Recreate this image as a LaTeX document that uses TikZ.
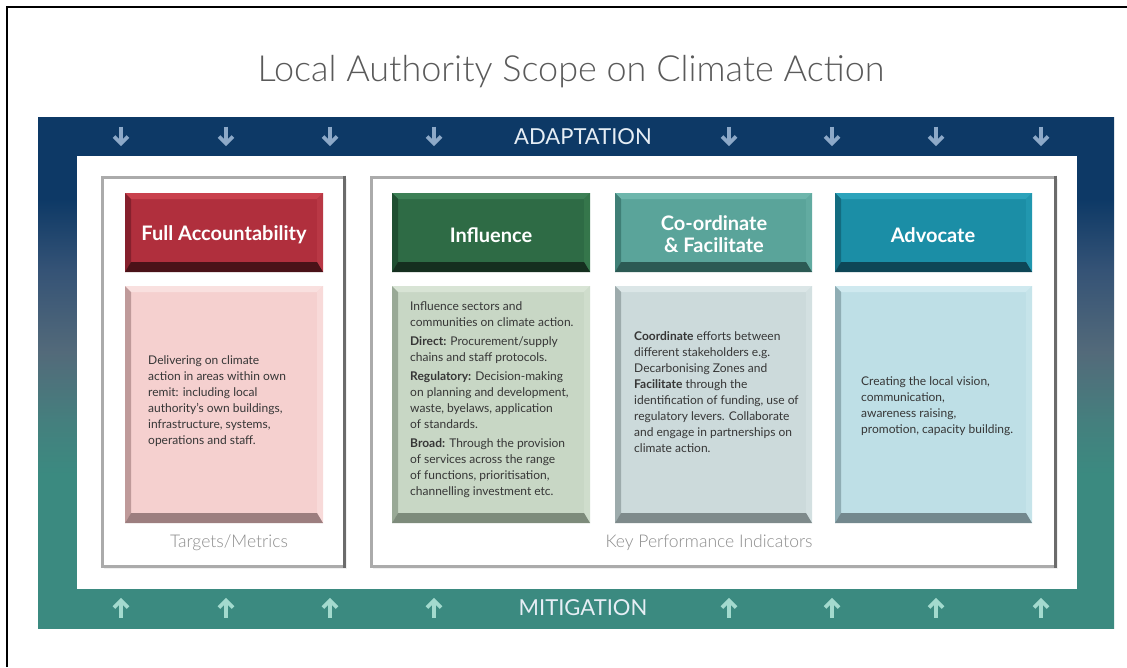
\documentclass[tikz,border=0pt]{standalone}
\usepackage{fontspec}
\setmainfont{Lato}
\IfFontExistsTF{Lato Light}{\newfontfamily\latolt{Lato Light}}{\newfontfamily\latolt{Lato}}
\definecolor{navyc}{HTML}{0D3966}
\definecolor{c60}{HTML}{355376}
\definecolor{midc}{HTML}{536A7A}
\definecolor{c44}{HTML}{44807E}
\definecolor{tealc}{HTML}{3B8A80}
\definecolor{uparrow}{HTML}{A3DACE}
\definecolor{downarrow}{HTML}{8DA9C8}
\definecolor{bandtext}{HTML}{E6EEF5}
\definecolor{titlegray}{HTML}{5A5A5A}
\definecolor{bodygray}{HTML}{363636}
\definecolor{kpigray}{HTML}{8C8C8C}
% header bevel colours
\definecolor{famain}{HTML}{B02F3D}\definecolor{fatop}{HTML}{C9414D}\definecolor{faleft}{HTML}{86202D}\definecolor{faright}{HTML}{B93845}\definecolor{fabot}{HTML}{4A1218}
\definecolor{inmain}{HTML}{2E6B45}\definecolor{intop}{HTML}{3D8056}\definecolor{inleft}{HTML}{1F4F31}\definecolor{inright}{HTML}{35764B}\definecolor{inbot}{HTML}{152F1F}
\definecolor{comain}{HTML}{5AA49A}\definecolor{cotop}{HTML}{6EB6AC}\definecolor{coleft}{HTML}{3F7F76}\definecolor{coright}{HTML}{62ABA1}\definecolor{cobot}{HTML}{2C5A54}
\definecolor{admain}{HTML}{1B8EA6}\definecolor{adtop}{HTML}{2CA3BB}\definecolor{adleft}{HTML}{136C80}\definecolor{adright}{HTML}{2197AF}\definecolor{adbot}{HTML}{0E4656}
% content bevel colours
\definecolor{pkmain}{HTML}{F5D0CF}\definecolor{pktop}{HTML}{F9E0DF}\definecolor{pkleft}{HTML}{BF9A9A}\definecolor{pkright}{HTML}{F8DAD9}\definecolor{pkbot}{HTML}{9C7E7F}
\definecolor{sgmain}{HTML}{C8D7C5}\definecolor{sgtop}{HTML}{D8E4D5}\definecolor{sgleft}{HTML}{99A996}\definecolor{sgright}{HTML}{CFDDCC}\definecolor{sgbot}{HTML}{7D8B7B}
\definecolor{gbmain}{HTML}{CCDADB}\definecolor{gbtop}{HTML}{DBE6E7}\definecolor{gbleft}{HTML}{9DABAC}\definecolor{gbright}{HTML}{D3E0E1}\definecolor{gbbot}{HTML}{7E8A8B}
\definecolor{lbmain}{HTML}{BEDFE6}\definecolor{lbtop}{HTML}{CFE9EF}\definecolor{lbleft}{HTML}{8FADB4}\definecolor{lbright}{HTML}{C6E4EA}\definecolor{lbbot}{HTML}{73888E}
\pgfdeclareverticalshading{bandshade}{100bp}{color(0bp)=(tealc); color(40bp)=(tealc); color(45bp)=(c44); color(52bp)=(midc); color(60bp)=(c60); color(67bp)=(navyc); color(100bp)=(navyc)}
\def\bw{6}
\def\bb{10}
\newcommand\bevbox[5]{%
  \fill[#5main] (#1,#2) rectangle (#3,#4);
  \fill[#5top] (#1,#2) -- (#3,#2) -- (#3-\bw,#2+\bw) -- (#1+\bw,#2+\bw) -- cycle;
  \fill[#5left] (#1,#2) -- (#1+\bw,#2+\bw) -- (#1+\bw,#4-\bb) -- (#1,#4) -- cycle;
  \fill[#5right] (#3,#2) -- (#3,#4) -- (#3-\bw,#4-\bb) -- (#3-\bw,#2+\bw) -- cycle;
  \fill[#5bot] (#1,#4) -- (#3,#4) -- (#3-\bw,#4-\bb) -- (#1+\bw,#4-\bb) -- cycle;
}
% stroked arrow; #3 = +1 for down, -1 for up
\tikzset{bandarrow/.style={line width=3.6pt, line join=miter, line cap=butt}}
\newcommand\bandarr[4]{%
  \draw[bandarrow, #4] (#1,#2-9.5*#3) -- (#1,#2+7*#3);
  \draw[bandarrow, #4] (#1-7,#2+0.5*#3) -- (#1,#2+7.5*#3) -- (#1+7,#2+0.5*#3);
}
\newcommand\panelframe[4]{%
  \fill[black!6] (#1+2,#2+2) rectangle (#3+3,#4+3);
  \fill[white] (#1,#2) rectangle (#3,#4);
  \draw[line width=3pt, color=black!33] (#3,#4) -- (#1,#4) -- (#1,#2) -- (#3,#2);
  \draw[line width=3pt, color=black!58] (#3,#2-1.5) -- (#3,#4+1.5);
}
\tikzset{
  headtext/.style={text=white, font=\bfseries\fontsize{20}{22}\selectfont, align=center, inner sep=0pt},
  bodytext/.style={text=bodygray, font=\fontsize{12}{16}\selectfont, align=left, inner sep=0pt},
  kpitext/.style={text=kpigray, font=\latolt\fontsize{17.5}{20}\selectfont, inner sep=0pt},
  bandlabel/.style={text=bandtext, font=\fontsize{22}{24}\selectfont, inner sep=0pt}
}
\begin{document}
\begin{tikzpicture}[x=1pt,y=-1pt]
\useasboundingbox (0,0) rectangle (1127,667);
\fill[white] (0,0) rectangle (1127,667);
% outer frame (cropped)
\draw[black, line width=2pt] (7,667) -- (7,7) -- (1127,7);
% title
\node[text=titlegray, font=\latolt\fontsize{36}{40}\selectfont, inner sep=0pt] (title) at (571,72) {Local Authority Scope on Climate Action};
% band
\fill[shading=bandshade] (38,117) rectangle (1114,628);
\fill[white] (77,156) rectangle (1077,589);
\node[bandlabel] (adapt) at (583,137) {ADAPTATION};
\node[bandlabel] (mitig) at (583,608) {MITIGATION};
\foreach \ax in {121,226,330,434,729,832,936,1041}{\bandarr{\ax}{136}{1}{downarrow}\bandarr{\ax}{608}{-1}{uparrow}}
% panels
\panelframe{102}{177}{344}{566}
\panelframe{371}{177}{1055}{566}
% header boxes
\bevbox{125}{193}{323}{272}{fa}
\bevbox{392}{193}{590}{272}{in}
\bevbox{615}{193}{812}{272}{co}
\bevbox{835}{193}{1032}{272}{ad}
\node[headtext] (hfa) at (224,235) {Full Accountability};
\node[headtext] (hin) at (491,235) {Influence};
\node[headtext] (hco) at (714,234) {Co-ordinate\\\& Facilitate};
\node[headtext] (had) at (933,235) {Advocate};
% content boxes
\bevbox{125}{286}{323}{523}{pk}
\bevbox{392}{286}{590}{523}{sg}
\bevbox{615}{286}{812}{523}{gb}
\bevbox{835}{286}{1032}{523}{lb}
\node[bodytext, anchor=west] (tfa) at (148,401) {Delivering on climate\\action in areas within own\\remit: including local\\authority’s own buildings,\\infrastructure, systems,\\operations and staff.};
\node[bodytext, anchor=north west] (tin) at (410,301) {Influence sectors and\\communities on climate action.\\[3pt]\textbf{Direct:} Procurement/supply\\chains and staff protocols.\\[3pt]\textbf{Regulatory:} Decision-making\\on planning and development,\\waste, byelaws, application\\of standards.\\[3pt]\textbf{Broad:} Through the provision\\of services across the range\\of functions, prioritisation,\\channelling investment etc.};
\node[bodytext, anchor=west] (tco) at (634,392) {\textbf{Coordinate} efforts between\\different stakeholders e.g.\\Decarbonising Zones and\\\textbf{Facilitate} through the\\identification of funding, use of\\regulatory levers. Collaborate\\and engage in partnerships on\\climate action.};
\node[bodytext, anchor=west] (tad) at (861,406) {Creating the local vision,\\communication,\\awareness raising,\\promotion, capacity building.};
% footers
\node[kpitext] (ktm) at (229,543) {Targets/Metrics};
\node[kpitext] (kkpi) at (709,543) {Key Performance Indicators};
\end{tikzpicture}
\end{document}
